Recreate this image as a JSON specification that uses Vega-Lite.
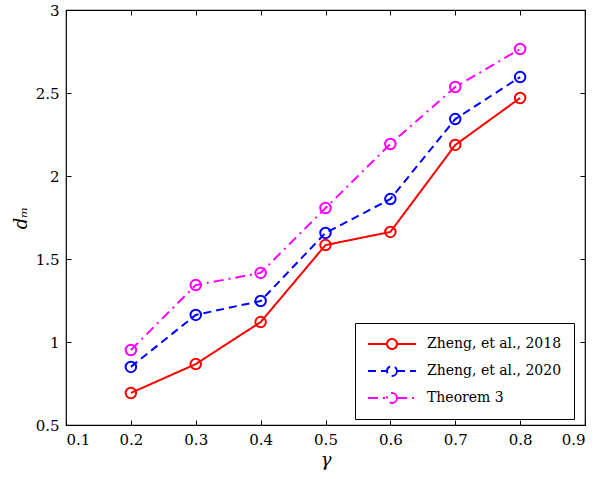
{
  "$schema": "https://vega.github.io/schema/vega-lite/v6.json",
  "width": 519,
  "height": 415,
  "autosize": {"type": "none"},
  "padding": {"left": 66, "top": 10, "right": 15, "bottom": 54},
  "background": "white",
  "config": {
    "font": "DejaVu Serif",
    "view": {"stroke": "black", "strokeWidth": 1.2},
    "axis": {
      "grid": false,
      "domain": false,
      "labelFont": "DejaVu Serif",
      "labelFontSize": 15,
      "labelColor": "black",
      "titleFont": "DejaVu Serif",
      "titleFontSize": 18,
      "titleFontStyle": "italic",
      "titleFontWeight": "normal",
      "titleColor": "black",
      "tickColor": "black",
      "tickSize": -5,
      "labelPadding": 12
    },
    "legend": {
      "labelFont": "DejaVu Serif",
      "labelFontSize": 14,
      "labelColor": "black"
    }
  },
  "data": {
    "values": [
      {"gamma": 0.2, "d": 0.693, "series": "Zheng, et al., 2018"},
      {"gamma": 0.3, "d": 0.867, "series": "Zheng, et al., 2018"},
      {"gamma": 0.4, "d": 1.12, "series": "Zheng, et al., 2018"},
      {"gamma": 0.5, "d": 1.584, "series": "Zheng, et al., 2018"},
      {"gamma": 0.6, "d": 1.663, "series": "Zheng, et al., 2018"},
      {"gamma": 0.7, "d": 2.187, "series": "Zheng, et al., 2018"},
      {"gamma": 0.8, "d": 2.47, "series": "Zheng, et al., 2018"},
      {"gamma": 0.2, "d": 0.85, "series": "Zheng, et al., 2020"},
      {"gamma": 0.3, "d": 1.163, "series": "Zheng, et al., 2020"},
      {"gamma": 0.4, "d": 1.247, "series": "Zheng, et al., 2020"},
      {"gamma": 0.5, "d": 1.657, "series": "Zheng, et al., 2020"},
      {"gamma": 0.6, "d": 1.861, "series": "Zheng, et al., 2020"},
      {"gamma": 0.7, "d": 2.343, "series": "Zheng, et al., 2020"},
      {"gamma": 0.8, "d": 2.596, "series": "Zheng, et al., 2020"},
      {"gamma": 0.2, "d": 0.952, "series": "Theorem 3"},
      {"gamma": 0.3, "d": 1.343, "series": "Theorem 3"},
      {"gamma": 0.4, "d": 1.416, "series": "Theorem 3"},
      {"gamma": 0.5, "d": 1.807, "series": "Theorem 3"},
      {"gamma": 0.6, "d": 2.193, "series": "Theorem 3"},
      {"gamma": 0.7, "d": 2.536, "series": "Theorem 3"},
      {"gamma": 0.8, "d": 2.765, "series": "Theorem 3"}
    ]
  },
  "resolve": {"axis": {"x": "independent", "y": "independent"}},
  "layer": [
    {
      "mark": {"type": "line", "strokeWidth": 2},
      "encoding": {
        "x": {
          "field": "gamma", "type": "quantitative",
          "scale": {"domain": [0.1, 0.9], "nice": false, "zero": false},
          "axis": {"values": [0.1, 0.2, 0.3, 0.4, 0.5, 0.6, 0.7, 0.8, 0.9], "format": ".1f", "title": "γ", "titlePadding": 4}
        },
        "y": {
          "field": "d", "type": "quantitative",
          "scale": {"domain": [0.5, 3], "nice": false, "zero": false},
          "axis": {"values": [0.5, 1, 1.5, 2, 2.5, 3], "format": "~g", "title": "dₘ", "titlePadding": 5}
        },
        "color": {
          "field": "series", "type": "nominal",
          "scale": {"domain": ["Zheng, et al., 2018", "Zheng, et al., 2020", "Theorem 3"], "range": ["#ff0000", "#0000ff", "#ff00ff"]},
          "legend": {
            "title": null,
            "orient": "none",
            "legendX": 289,
            "legendY": 313,
            "strokeColor": "black",
            "fillColor": "white",
            "padding": 12,
            "rowPadding": 9,
            "labelOffset": 42,
            "symbolType": "M-1,0L1.375,0M2.625,0A0.625,0.625 0 1,1 1.375,0A0.625,0.625 0 1,1 2.625,0M2.625,0L5,0",
            "symbolSize": 256,
            "symbolStrokeWidth": 2,
            "symbolFillColor": "transparent"
          }
        },
        "strokeDash": {
          "field": "series", "type": "nominal",
          "scale": {"domain": ["Zheng, et al., 2018", "Zheng, et al., 2020", "Theorem 3"], "range": [[1, 0], [8, 5], [10, 5, 2, 5]]},
          "legend": null
        }
      }
    },
    {
      "mark": {"type": "point", "filled": false, "size": 110, "strokeWidth": 2, "opacity": 1},
      "encoding": {
        "x": {
          "field": "gamma", "type": "quantitative",
          "axis": {"orient": "top", "values": [0.1, 0.2, 0.3, 0.4, 0.5, 0.6, 0.7, 0.8, 0.9], "labels": false, "title": null}
        },
        "y": {
          "field": "d", "type": "quantitative",
          "axis": {"orient": "right", "values": [0.5, 1, 1.5, 2, 2.5, 3], "labels": false, "title": null}
        },
        "color": {"field": "series", "type": "nominal", "legend": null}
      }
    }
  ]
}
